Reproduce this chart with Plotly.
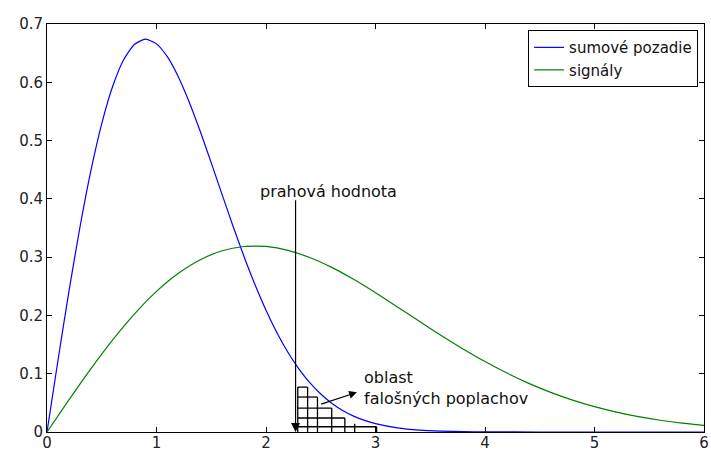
import plotly.graph_objects as go

# ---- data ----
x_noise = [0.0, 0.1, 0.2, 0.3, 0.4, 0.5, 0.6, 0.7, 0.8, 0.9, 1.0, 1.1, 1.2, 1.3, 1.4, 1.5,
           1.6, 1.7, 1.8, 1.9, 2.0, 2.1, 2.2, 2.3, 2.4, 2.5, 2.6, 2.7, 2.8, 2.9, 3.0,
           3.2, 3.4, 3.6, 3.8, 4.0, 4.5, 5.0, 5.5, 6.0]
y_noise = [0.0, 0.1227, 0.2409, 0.3504, 0.4474, 0.5290, 0.5931, 0.6386, 0.6653, 0.6739,
           0.6659, 0.6435, 0.6091, 0.5654, 0.5155, 0.4618, 0.4068, 0.3526, 0.3007, 0.2526,
           0.2090, 0.1704, 0.1369, 0.1084, 0.0846, 0.0652, 0.0495, 0.0370, 0.0273, 0.0199,
           0.0143, 0.0071, 0.0033, 0.0015, 0.0006, 0.0003, 0.0, 0.0, 0.0, 0.0]

x_signal = [0.0, 0.2, 0.4, 0.6, 0.8, 1.0, 1.2, 1.4, 1.6, 1.8, 1.9, 2.0, 2.2, 2.4, 2.6, 2.8,
            3.0, 3.2, 3.4, 3.6, 3.8, 4.0, 4.2, 4.4, 4.6, 4.8, 5.0, 5.2, 5.4, 5.6, 5.8, 6.0]
y_signal = [0.0, 0.0551, 0.1084, 0.1581, 0.2028, 0.2412, 0.2723, 0.2956, 0.3109, 0.3183,
            0.3190, 0.3184, 0.3117, 0.2994, 0.2824, 0.2619, 0.2389, 0.2146, 0.1899, 0.1657,
            0.1425, 0.1208, 0.1011, 0.0835, 0.0680, 0.0547, 0.0434, 0.0341, 0.0264, 0.0202,
            0.0152, 0.0114]

series_names = ["sumové pozadie", "signály"]
threshold_x = 2.27
threshold_top = 0.40

# hatch of the false-alarm area
hatch_rows_y = [0.077, 0.060, 0.041, 0.024, 0.009]
hatch_rows_xend = [2.38, 2.47, 2.60, 2.72, 3.01]
hatch_cols_x = [2.29, 2.38, 2.47, 2.60, 2.72, 2.81, 3.01]
hatch_cols_top = [0.077, 0.077, 0.060, 0.041, 0.024, 0.014, 0.009]
hatch_left = 2.29

x_ticks = [0, 1, 2, 3, 4, 5, 6]
y_ticks = [0, 0.1, 0.2, 0.3, 0.4, 0.5, 0.6, 0.7]

FONT = "DejaVu Sans"

fig = go.Figure()
fig.add_trace(go.Scatter(x=x_noise, y=y_noise, mode="lines", name=series_names[0],
                         line=dict(color="#0000ff", width=1.2, shape="spline", smoothing=0.6)))
fig.add_trace(go.Scatter(x=x_signal, y=y_signal, mode="lines", name=series_names[1],
                         line=dict(color="#008000", width=1.2, shape="spline", smoothing=0.6)))

shapes = []
for yv, xe in zip(hatch_rows_y, hatch_rows_xend):
    shapes.append(dict(type="line", xref="x", yref="y", x0=hatch_left, x1=xe, y0=yv, y1=yv,
                       line=dict(color="black", width=1.3)))
for xv, yt in zip(hatch_cols_x, hatch_cols_top):
    shapes.append(dict(type="line", xref="x", yref="y", x0=xv, x1=xv, y0=0, y1=yt,
                       line=dict(color="black", width=1.3)))

annotations = [
    # threshold arrow
    dict(x=threshold_x, y=0, ax=threshold_x, ay=threshold_top, xref="x", yref="y",
         axref="x", ayref="y", text="", showarrow=True, arrowhead=2, arrowsize=1.5,
         arrowwidth=1.2, arrowcolor="black"),
    dict(x=2.575, y=0.413, xref="x", yref="y", text="prahová hodnota", showarrow=False,
         font=dict(family=FONT, size=16, color="#111"), xanchor="center", yanchor="middle"),
    # false alarm pointer
    dict(x=2.83, y=0.068, ax=2.49, ay=0.047, xref="x", yref="y", axref="x", ayref="y",
         text="", showarrow=True, arrowhead=2, arrowsize=1.3, arrowwidth=1.2,
         arrowcolor="black"),
    dict(x=2.88, y=0.075, xref="x", yref="y", text="oblast<br>falošných poplachov",
         showarrow=False, align="left", xanchor="left", yanchor="middle",
         font=dict(family=FONT, size=16, color="#111")),
]

axis_common = dict(showgrid=False, zeroline=False, showline=True, linecolor="black",
                   linewidth=1, mirror="ticks", ticks="inside", ticklen=5, tickwidth=1,
                   tickcolor="black", automargin=False,
                   tickfont=dict(family=FONT, size=15, color="#222"))

fig.update_layout(
    width=711, height=452,
    margin=dict(l=47, r=7, t=24, b=20),
    paper_bgcolor="white", plot_bgcolor="white",
    xaxis=dict(range=[0, 6], tickvals=x_ticks, ticktext=[str(v) for v in x_ticks],
               ticklabelstandoff=-3, **axis_common),
    yaxis=dict(range=[0, 0.7], tickvals=y_ticks, ticktext=["0"] + [f"{v:.1f}" for v in y_ticks[1:]], **axis_common),
    legend=dict(x=0.991, y=0.985, xanchor="right", yanchor="top", bgcolor="white",
                bordercolor="black", borderwidth=1,
                font=dict(family=FONT, size=15, color="#111"), tracegroupgap=0),
    shapes=shapes, annotations=annotations, showlegend=True,
)

fig.write_html("out.html")
